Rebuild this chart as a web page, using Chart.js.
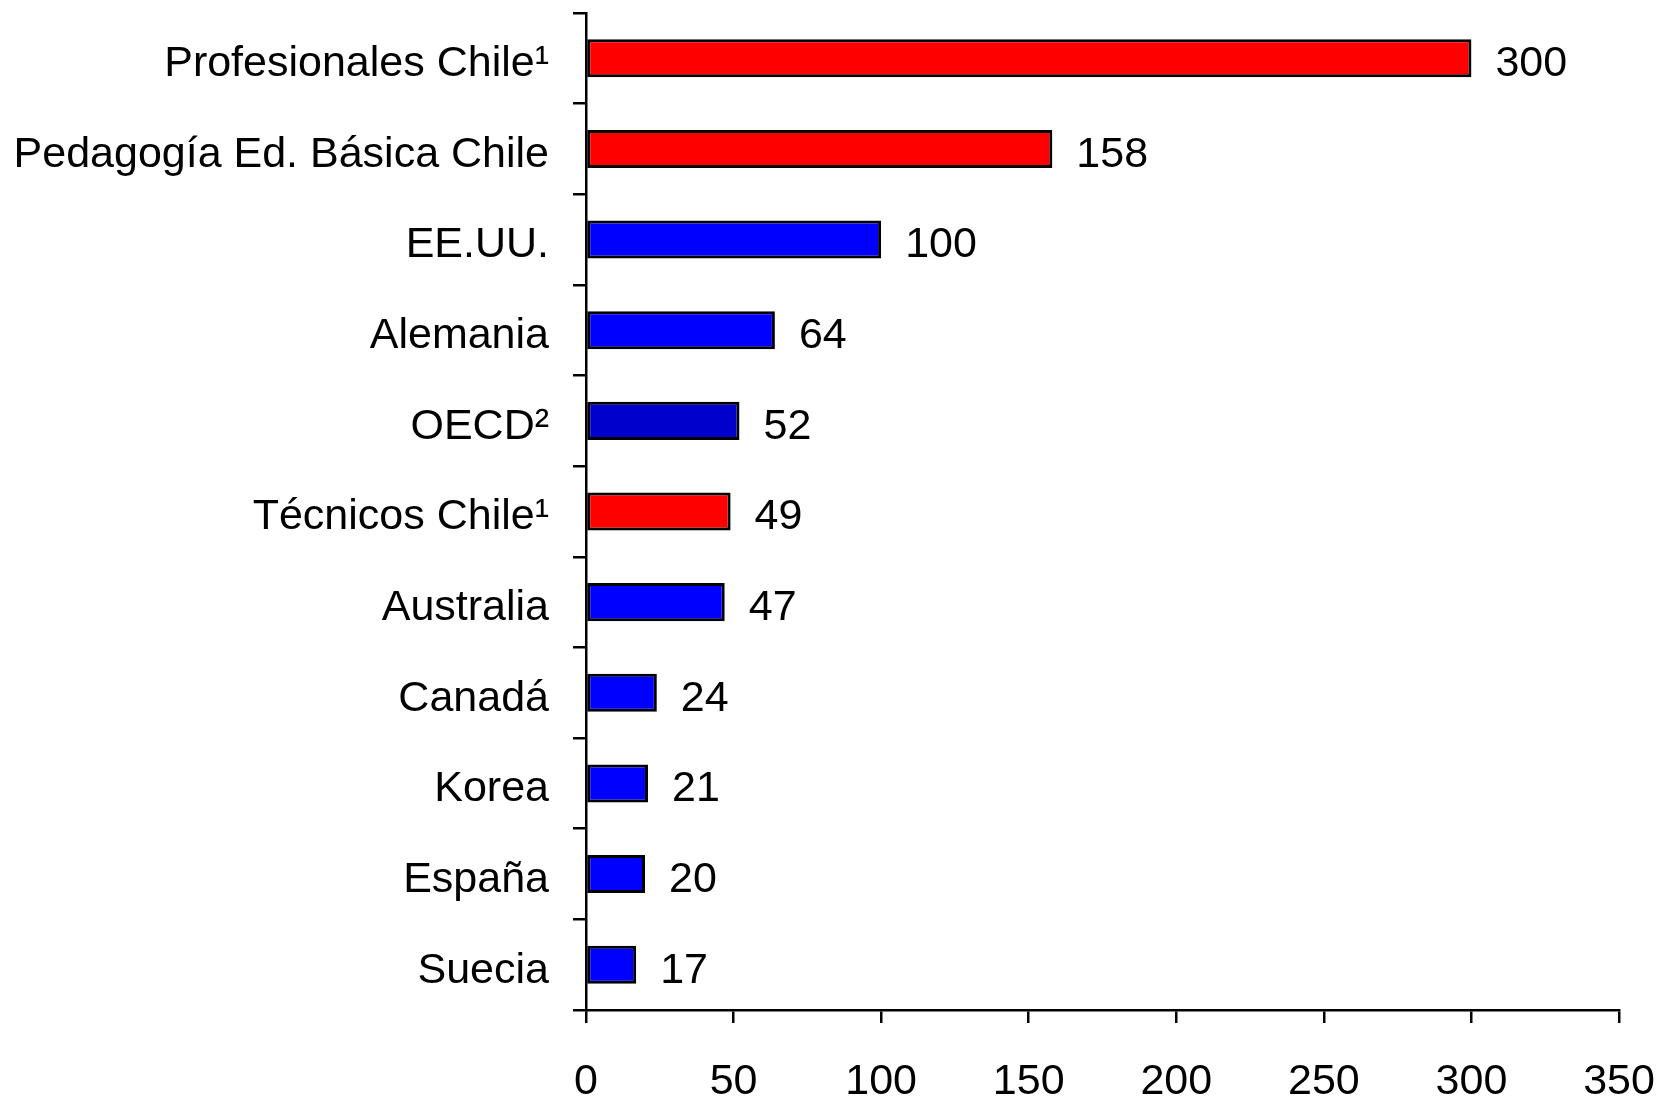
<!DOCTYPE html>
<html>
<head>
<meta charset="utf-8">
<script src="https://cdn.jsdelivr.net/npm/chart.js@4"></script>
<style>
    body { margin: 0; background: #fff; }
    #wrap { width: 1663px; height: 1097px; position: relative; }
</style>
</head>
<body>
<div id="wrap"><canvas id="myChart"></canvas></div>
<script>
const categories = [
    'Profesionales Chile¹',
    'Pedagogía Ed. Básica Chile',
    'EE.UU.',
    'Alemania',
    'OECD²',
    'Técnicos Chile¹',
    'Australia',
    'Canadá',
    'Korea',
    'España',
    'Suecia'
];
const values = [300, 158, 100, 64, 52, 49, 47, 24, 21, 20, 17];
const barColors = ['#FF0000', '#FF0000', '#0000FF', '#0000FF', '#0000CC', '#FF0000',
    '#0000FF', '#0000FF', '#0000FF', '#0000FF', '#0000FF'];
const xTicks = [0, 50, 100, 150, 200, 250, 300, 350];

const FONT = '"Liberation Sans", Arial, sans-serif';

// numbers to the right of each bar
const valueLabels = {
    id: 'valueLabels',
    afterDatasetsDraw(chart) {
        const ctx = chart.ctx;
        const meta = chart.getDatasetMeta(0);
        ctx.save();
        ctx.font = '43px ' + FONT;
        ctx.fillStyle = '#000';
        ctx.textAlign = 'left';
        ctx.textBaseline = 'middle';
        meta.data.forEach((bar, i) => {
            ctx.fillText(String(values[i]), bar.x + 24, bar.y + 6);
        });
        ctx.restore();
    }
};

function main() {
    const ctx = document.getElementById('myChart').getContext('2d');
    new Chart(ctx, {
        type: 'bar',
        data: {
            labels: categories,
            datasets: [{
                data: values,
                backgroundColor: barColors,
                borderColor: '#000',
                borderWidth: 3,
                borderSkipped: false,
                barPercentage: 0.42,
                categoryPercentage: 1
            }]
        },
        options: {
            indexAxis: 'y',
            responsive: true,
            maintainAspectRatio: false,
            animation: false,
            devicePixelRatio: 1,
            layout: { padding: { top: 13, right: 44, bottom: 0, left: 0 } },
            plugins: {
                legend: { display: false },
                tooltip: { enabled: false }
            },
            scales: {
                x: {
                    min: 0,
                    max: 350,
                    afterBuildTicks: (scale) => { scale.ticks = xTicks.map(v => ({ value: v })); },
                    afterFit: (scale) => {
                        scale.height = 87;
                        scale.paddingLeft = 0;
                        scale.paddingRight = 0;
                    },
                    border: { display: true, color: '#000', width: 2.5 },
                    grid: { drawOnChartArea: false, drawTicks: true, tickLength: 13, color: '#000', lineWidth: 2.5 },
                    ticks: { color: '#000', padding: 33, maxRotation: 0, font: { family: FONT, size: 43 } }
                },
                y: {
                    afterFit: (scale) => {
                        scale.width = 586;
                        scale.paddingTop = 0;
                        scale.paddingBottom = 0;
                    },
                    border: { display: true, color: '#000', width: 2.5 },
                    grid: { drawOnChartArea: false, drawTicks: true, tickLength: 13, color: '#000', lineWidth: 2.5, offset: true },
                    ticks: { color: '#000', padding: 24, labelOffset: 6, autoSkip: false, font: { family: FONT, size: 43 } }
                }
            }
        },
        plugins: [valueLabels]
    });
}

main();
</script>
</body>
</html>
